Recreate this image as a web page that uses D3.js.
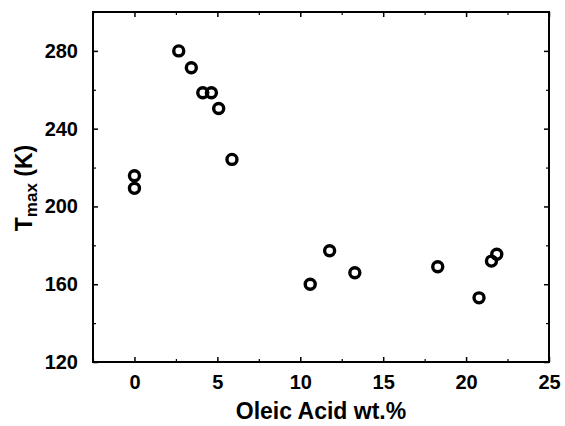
<!DOCTYPE html>
<html>
<head>
<meta charset="utf-8">
<script src="https://cdn.jsdelivr.net/npm/d3@7"></script>
<style>
  body { margin: 0; background: #fff; }
  text { font-family: "Liberation Sans", Arial, sans-serif; font-weight: bold; fill: #000; }
</style>
</head>
<body>
<div id="chart"></div>
<script>
// Data
var oleic = [0, 0, 2.67, 3.43, 4.12, 4.64, 5.08, 5.88, 10.6, 11.77, 13.29, 18.29, 20.78, 21.53, 21.85];
var tmax  = [215.8, 209.3, 280, 271.3, 258.5, 258.5, 250.4, 224.2, 160, 177.2, 165.9, 169, 153, 171.9, 175.4];
var x_ticks = [0, 5, 10, 15, 20, 25];
var y_ticks = [120, 160, 200, 240, 280];

var chart_width  = 565;
var chart_height = 426;
var margin = { left: 93, right: 16, top: 12, bottom: 64 };

var x = d3.scaleLinear()
          .domain([-2.5, 25])
          .range([margin.left, chart_width - margin.right]);
var y = d3.scaleLinear()
          .domain([120, 300])
          .range([chart_height - margin.bottom, margin.top]);

var svg = d3.select('#chart')
            .append('svg')
            .attr('width', chart_width)
            .attr('height', chart_height);

// Minor ticks sit half way between the major ones
var x_minor = d3.range(-2.5, 25.01, 2.5).filter(function(v){ return x_ticks.indexOf(v) < 0; });
var y_minor = d3.range(140, 300, 40);

function ticks(axis, scale, major, minor, pos, labels, pad){
  var g = svg.append('g').attr('transform', pos);
  g.call(axis(scale).tickValues(major).tickSizeInner(-5).tickSizeOuter(0)
         .tickPadding(pad).tickFormat(labels ? d3.format('d') : ''));
  g.select('.domain').remove();
  g.attr('font-family', null).attr('font-size', null);
  g.selectAll('.tick line').attr('stroke', '#000').attr('stroke-width', 1.5);
  g.selectAll('.tick text').style('font-size', '20px');
  var m = svg.append('g').attr('transform', pos);
  m.call(axis(scale).tickValues(minor).tickSizeInner(-3).tickSizeOuter(0).tickFormat(''));
  m.select('.domain').remove();
  m.selectAll('.tick line').attr('stroke', '#000').attr('stroke-width', 1.2);
}

ticks(d3.axisBottom, x, x_ticks, x_minor, 'translate(0,' + y.range()[0] + ')', true, 13);
ticks(d3.axisTop, x, x_ticks, x_minor, 'translate(0,' + y.range()[1] + ')', false, 0);
ticks(d3.axisLeft, y, y_ticks, y_minor, 'translate(' + x.range()[0] + ',0)', true, 15);
ticks(d3.axisRight, y, y_ticks, y_minor, 'translate(' + x.range()[1] + ',0)', false, 0);

// Frame
svg.append('rect')
   .attr('x', x.range()[0])
   .attr('y', y.range()[1])
   .attr('width', x.range()[1] - x.range()[0])
   .attr('height', y.range()[0] - y.range()[1])
   .attr('fill', 'none')
   .attr('stroke', '#000')
   .attr('stroke-width', 2);

// Points
svg.selectAll('circle.pt')
   .data(oleic)
   .enter()
   .append('circle')
   .classed('pt', true)
   .attr('cx', function(d){ return x(d); })
   .attr('cy', function(d, i){ return y(tmax[i]); })
   .attr('r', 5)
   .attr('fill', 'none')
   .attr('stroke', '#000')
   .attr('stroke-width', 3.4);

// Axis titles
svg.append('text')
   .attr('x', (x.range()[0] + x.range()[1]) / 2)
   .attr('y', 419)
   .attr('text-anchor', 'middle')
   .style('font-size', '23px')
   .text('Oleic Acid wt.%');

var yt = svg.append('text')
   .attr('transform', 'translate(32,188) rotate(-90)')
   .attr('text-anchor', 'middle')
   .style('font-size', '23px');
yt.append('tspan').text('T');
yt.append('tspan').attr('dy', 5).style('font-size', '17px').text('max');
yt.append('tspan').attr('dy', -5).text(' (K)');
</script>
</body>
</html>
